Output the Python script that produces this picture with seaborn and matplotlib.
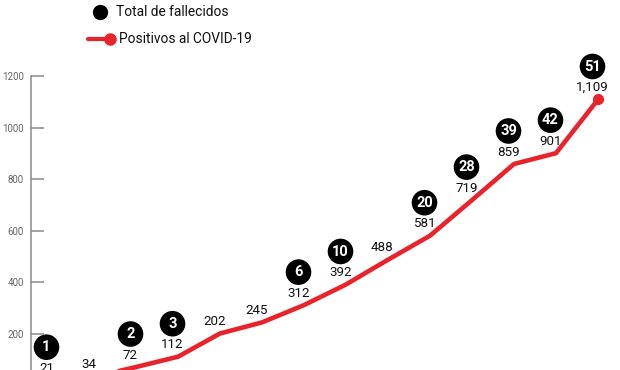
import matplotlib
matplotlib.use("Agg")
import matplotlib.pyplot as plt
import seaborn as sns
import pandas as pd
from matplotlib.transforms import ScaledTranslation
from matplotlib.lines import Line2D

# ---- data ----
dias = list(range(14))
positivos = [21, 34, 72, 112, 202, 245, 312, 392, 488, 581, 719, 859, 901, 1109]
etiquetas = ["21", "34", "72", "112", "202", "245", "312", "392", "488", "581",
             "719", "859", "901", "1,109"]
fallecidos = [1, None, 2, 3, None, None, 6, 10, None, 20, 28, 39, 42, 51]
yticks = [200, 400, 600, 800, 1000, 1200]
leyenda = ["Total de fallecidos", "Positivos al COVID-19"]

RED = "#e8232b"
GRAY = "#8a8a8a"
W, H = 620, 370

sns.set_theme(style="white")
plt.rcParams["font.family"] = ["Roboto", "DejaVu Sans"]

fig = plt.figure(figsize=(W / 100, H / 100), dpi=100)
ax = fig.add_axes([31 / W, -0.0422, 583.8 / W, 0.9065])

df = pd.DataFrame({"dia": dias, "positivos": positivos})
sns.lineplot(data=df, x="dia", y="positivos", ax=ax, color=RED, linewidth=3.3,
             solid_joinstyle="miter")
ax.plot([dias[-1]], [positivos[-1]], "o", color=RED, markersize=7, zorder=5)

# value labels
for d, v, t in zip(dias, positivos, etiquetas):
    ax.annotate(t, (d, v), xytext=(-4.0, 8.6), textcoords="offset points",
                ha="center", va="center", fontsize=9.6, color="#111111")

# deaths circles
dfd = pd.DataFrame({"dia": dias, "positivos": positivos, "fall": fallecidos}).dropna()
off = ax.transData + ScaledTranslation(-5.5 / 100, 33 / 100, fig.dpi_scale_trans)
sns.scatterplot(data=dfd, x="dia", y="positivos", ax=ax, s=340, color="black",
                edgecolor="none", transform=off, zorder=6, legend=False)
for _, r in dfd.iterrows():
    ax.annotate(str(int(r["fall"])), (r["dia"], r["positivos"]), xytext=(-4.0, 23.6),
                textcoords="offset points", ha="center", va="center",
                fontsize=10.5, fontweight="bold", color="white", zorder=7)
ax.set_xlim(-0.5, 13.4)
ax.set_ylim(0, 1300)

# axes styling
for s in ["top", "right", "bottom"]:
    ax.spines[s].set_visible(False)
ax.spines["left"].set_color(GRAY)
ax.spines["left"].set_linewidth(1.1)
ax.spines["left"].set_bounds(0, 1200)
ax.set_xticks([])
ax.set_yticks(yticks)
ax.set_yticklabels([str(v) for v in yticks])
ax.tick_params(axis="y", direction="in", length=9.5, width=1.1, color=GRAY,
               labelsize=7, labelcolor="#666666", pad=5, left=True)
ax.set_xlabel("")
ax.set_ylabel("")
ax.grid(False)

# legend (manual)
def fx(px):
    return px / W
def fy(py):
    return 1 - py / H

fig.add_artist(Line2D([fx(100)], [fy(12)], marker="o", color="black",
                      markersize=10, linestyle="none", transform=fig.transFigure))
fig.text(fx(116), fy(12), leyenda[0], ha="left", va="center", fontsize=9.9,
         color="#111111")
fig.add_artist(Line2D([fx(88), fx(110)], [fy(39), fy(39)], color=RED, linewidth=3,
                      transform=fig.transFigure))
fig.add_artist(Line2D([fx(110)], [fy(39)], marker="o", color=RED, markersize=8,
                      linestyle="none", transform=fig.transFigure))
fig.text(fx(119), fy(39), leyenda[1], ha="left", va="center", fontsize=9.9,
         color="#111111")

fig.savefig("out.png", dpi=100)
